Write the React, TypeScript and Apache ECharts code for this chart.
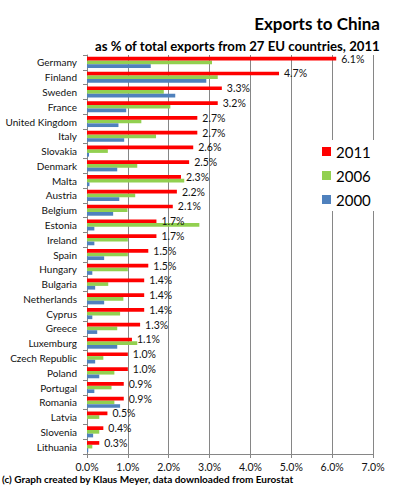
import React, { useEffect, useRef } from "react";
import * as echarts from "echarts";

const countries = [
  "Germany", "Finland", "Sweden", "France", "United Kingdom", "Italy", "Slovakia",
  "Denmark", "Malta", "Austria", "Belgium", "Estonia", "Ireland", "Spain", "Hungary",
  "Bulgaria", "Netherlands", "Cyprus", "Greece", "Luxemburg", "Czech Republic",
  "Poland", "Portugal", "Romania", "Latvia", "Slovenia", "Lithuania",
];
const values2011 = [6.1, 4.7, 3.3, 3.2, 2.7, 2.7, 2.6, 2.5, 2.3, 2.2, 2.1, 1.7, 1.7, 1.5, 1.5, 1.4, 1.4, 1.4, 1.3, 1.1, 1.0, 1.0, 0.9, 0.9, 0.5, 0.4, 0.3];
const values2006 = [3.06, 3.2, 1.88, 2.04, 1.33, 1.69, 0.51, 1.23, 2.38, 1.18, 0.99, 2.75, 1.0, 1.0, 1.0, 0.52, 0.89, 0.81, 0.74, 1.23, 0.4, 0.67, 0.6, 0.67, 0.3, 0.3, 0.13];
const values2000 = [1.56, 2.92, 2.16, 0.96, 0.77, 0.91, 0.05, 0.74, 0.06, 0.79, 0.64, 0.18, 0.18, 0.42, 0.13, 0.2, 0.42, 0.13, 0.25, 0.74, 0.2, 0.3, 0.18, 0.81, 0.0, 0.15, 0.03];
const seriesNames = ["2011", "2006", "2000"];
const seriesColors = ["#FF0000", "#92D050", "#4F81BD"];

const FONT = "Lato, 'Liberation Sans', sans-serif";

export default function App() {
  const ref = useRef<HTMLDivElement>(null);
  useEffect(() => {
    if (!ref.current) return;
    const chart = echarts.init(ref.current, undefined, { renderer: "svg" });
    const data = [values2011, values2006, values2000];
    chart.setOption({
      animation: false,
      backgroundColor: "#ffffff",
      textStyle: { fontFamily: FONT },
      title: [
        {
          text: "Exports to China",
          right: 9,
          top: 10,
          textStyle: { fontFamily: FONT, fontSize: 17, fontWeight: "bold", color: "#000" },
        },
        {
          text: "as % of total exports from 27 EU countries, 2011",
          right: 9,
          top: 34,
          textStyle: { fontFamily: FONT, fontSize: 13.2, fontWeight: "bold", color: "#000" },
        },
      ],
      graphic: [
        {
          type: "text",
          left: 2,
          top: 474,
          style: {
            text: "(c) Graph created by Klaus Meyer, data downloaded from Eurostat",
            font: `bold 10px ${FONT}`,
            fill: "#000",
          },
        },
      ],
      legend: {
        orient: "vertical",
        left: 318,
        top: 140,
        icon: "rect",
        itemWidth: 9,
        itemHeight: 9,
        itemGap: 9,
        padding: [4, 6, 4, 4],
        backgroundColor: "#ffffff",
        data: seriesNames,
        textStyle: { fontFamily: FONT, fontSize: 15, color: "#000" },
      },
      grid: { left: 87, right: 21, top: 55, bottom: 34, containLabel: false },
      xAxis: {
        type: "value",
        min: 0,
        max: 7,
        interval: 1,
        axisLine: { show: true, lineStyle: { color: "#868686" } },
        axisTick: { show: true, length: 4, lineStyle: { color: "#868686" } },
        splitLine: { show: true, lineStyle: { color: "#868686", width: 1 } },
        axisLabel: {
          formatter: (v: number) => v.toFixed(1) + "%",
          fontFamily: FONT,
          fontSize: 10.5,
          color: "#111",
          margin: 7,
        },
      },
      yAxis: {
        type: "category",
        inverse: true,
        data: countries,
        axisLine: { show: true, lineStyle: { color: "#868686" } },
        axisTick: { show: true, length: 4, lineStyle: { color: "#868686" } },
        axisLabel: { fontFamily: FONT, fontSize: 10, color: "#111", margin: 10 },
      },
      series: seriesNames.map((name, i) => ({
        name,
        type: "bar",
        data: data[i],
        barGap: "0%",
        barCategoryGap: "25%",
        itemStyle: { color: seriesColors[i] },
        z: i === 0 ? 3 : 2,
        label:
          i === 0
            ? {
                show: true,
                position: "right",
                distance: 5,
                formatter: (p: any) => Number(p.value).toFixed(1) + "%",
                fontFamily: FONT,
                fontSize: 10.5,
                color: "#111",
              }
            : { show: false },
      })),
    });
    return () => chart.dispose();
  }, []);
  return (
    <div
      ref={ref}
      style={{ position: "fixed", left: 0, top: 0, width: 394, height: 488 }}
    />
  );
}
